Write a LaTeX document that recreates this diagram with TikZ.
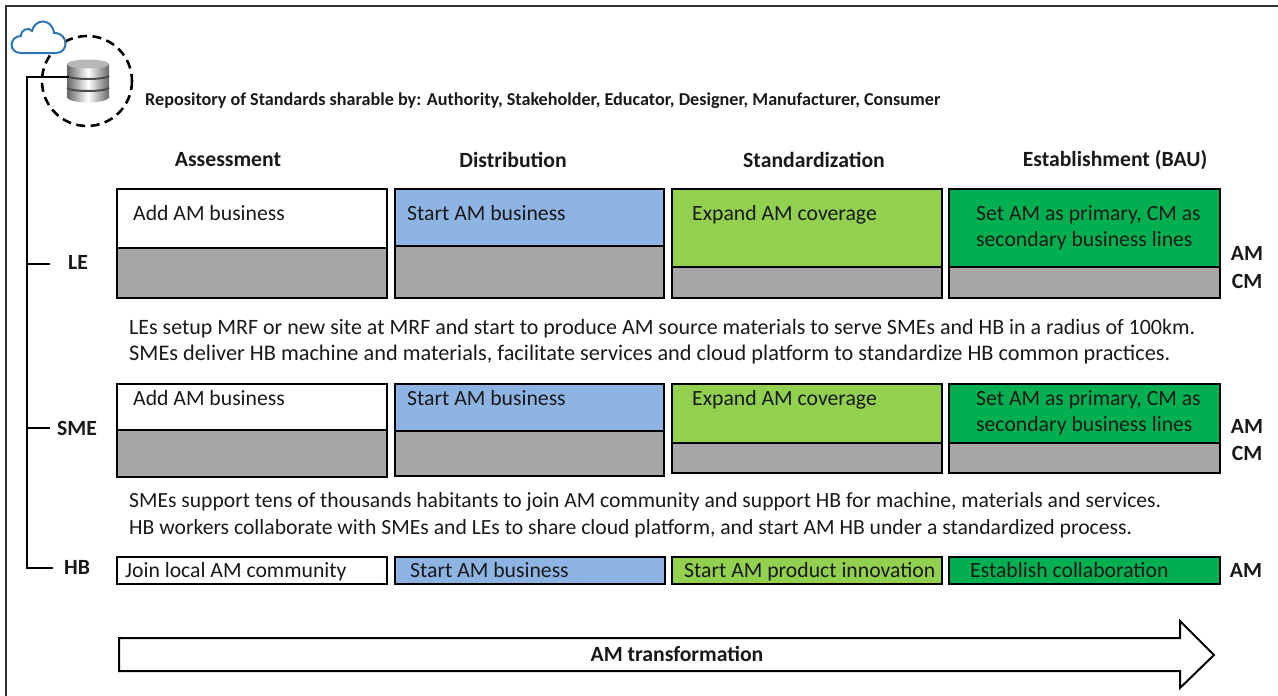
\documentclass[tikz,border=0pt]{standalone}
\usepackage{fontspec}
\setmainfont{Carlito}
\definecolor{cblue}{HTML}{8EB4E3}
\definecolor{clime}{HTML}{92D050}
\definecolor{cgreen}{HTML}{00B050}
\definecolor{cgrey}{HTML}{A6A6A6}
\definecolor{cloudblue}{HTML}{2E75B6}
\tikzset{
  x=1pt,y=-1pt,
  box/.style={draw=black,line width=2.4pt,inner sep=0pt,outer sep=0pt},
  body/.style={font=\fontsize{21.7}{24}\selectfont,text=black!90,inner sep=0pt,anchor=base west},
  bold/.style={font=\fontsize{21.7}{24}\selectfont\bfseries,text=black!90,inner sep=0pt},
  para/.style={font=\fontsize{#1}{26}\selectfont,text=black!90,inner sep=0pt,anchor=base west},
  wire/.style={draw=black,line width=1.5pt},
}
\newcommand{\cellbox}[7]{% name x1 y1 x2 ymid y2 colour
  \fill[cgrey] (#2,#5) rectangle (#4,#6);
  \fill[#7] (#2,#3) rectangle (#4,#5);
  \draw[box] (#2,#5) -- (#4,#5);
  \node[box,minimum width=#4pt-#2pt,minimum height=#6pt-#3pt,anchor=north west] (#1) at (#2,#3) {};
}
\begin{document}
\begin{tikzpicture}
\useasboundingbox (0,0) rectangle (1278,696);
\draw[black!80,line width=2pt] (6,697) -- (6,5.5) -- (1279,5.5);
% dashed circle
\draw[black,line width=2.6pt,dash pattern=on 9pt off 5.5pt] (87,81) circle (45);
% cloud
\draw[cloudblue,line width=2pt,fill=white] (21,53) .. controls (8,53) and (9,36) .. (21,36)
  .. controls (21,29) and (29,27) .. (32,31) .. controls (35,18) and (52,18) .. (54,33)
  .. controls (69,33) and (69,53) .. (56,53) -- cycle;
% database
\shade[left color=black!60,right color=black!60,middle color=white] (67,64) -- (67,98) .. controls (72,104) and (104,104) .. (109,98) -- (109,64) -- cycle;
\fill[black!28] (88,64) ellipse (21 and 4.5);
\draw[black!70,line width=2pt] (67,76) .. controls (72,80) and (104,80) .. (109,76);
\draw[black!70,line width=2pt] (67,88) .. controls (72,92) and (104,92) .. (109,88);
\coordinate (db) at (69,77);
\coordinate (bend) at (27,77);
\coordinate (trunkend) at (27,568);
\coordinate (hbtick) at (53,568);
\coordinate (letrunk) at (27,264);
\coordinate (letick) at (50,264);
\coordinate (smetrunk) at (27,428);
\coordinate (smetick) at (50,428);
\draw[wire] (db) -- (bend) -- (trunkend) -- (hbtick);
\draw[wire] (letrunk) -- (letick);
\draw[wire] (smetrunk) -- (smetick);
\node[inner sep=0pt,anchor=base west,font=\fontsize{18.15}{20}\selectfont\bfseries,text=black!90] (repo) at (145,105) {Repository of Standards sharable by: Authority, Stakeholder, Educator, Designer, Manufacturer, Consumer};
% headers
\node[bold] (h1) at (228,160) {Assessment};
\node[bold] (h2) at (513,160) {Distribution};
\node[bold] (h3) at (814,160) {Standardization};
\node[bold] (h4) at (1115,160) {Establishment (BAU)};
% row labels
\node[bold] (le) at (78,262) {LE};
\node[bold] (sme) at (77,428) {SME};
\node[bold] (hb) at (77,567) {HB};
% LE
\cellbox{a1}{117}{189}{387}{248}{298}{white}
\cellbox{a2}{395}{189}{664}{246}{298}{cblue}
\cellbox{a3}{672}{189}{942}{267}{298}{clime}
\cellbox{a4}{949}{189}{1220}{267}{298}{cgreen}
\node[body] at (133,220) {Add AM business};
\node[body] at (407,220) {Start AM business};
\node[body] at (692,220) {Expand AM coverage};
\node[body] at (976,220) {Set AM as primary, CM as};
\node[body] at (976,246) {secondary business lines};
\node[bold] at (1247,253) {AM};
\node[bold] at (1247,281) {CM};
\node[para=21.95] at (129,334) {LEs setup MRF or new site at MRF and start to produce AM source materials to serve SMEs and HB in a radius of 100km.};
\node[para=22.3] at (129,360) {SMEs deliver HB machine and materials, facilitate services and cloud platform to standardize HB common practices.};
% SME
\cellbox{b1}{117}{384}{387}{430}{477}{white}
\cellbox{b2}{395}{384}{664}{431}{476}{cblue}
\cellbox{b3}{672}{384}{942}{443}{473}{clime}
\cellbox{b4}{949}{384}{1220}{443}{473}{cgreen}
\node[body] at (133,405) {Add AM business};
\node[body] at (407,405) {Start AM business};
\node[body] at (692,405) {Expand AM coverage};
\node[body] at (976,405) {Set AM as primary, CM as};
\node[body] at (976,431) {secondary business lines};
\node[bold] at (1247,426) {AM};
\node[bold] at (1247,453) {CM};
\node[para=21.6] at (129,507) {SMEs support tens of thousands habitants to join AM community and support HB for machine, materials and services.};
\node[para=21.65] at (129,534) {HB workers collaborate with SMEs and LEs to share cloud platform, and start AM HB under a standardized process.};
% HB
\node[box,fill=white,minimum width=270pt,minimum height=27pt,anchor=north west] (c1) at (117,557) {};
\node[box,fill=cblue,minimum width=270pt,minimum height=27pt,anchor=north west] (c2) at (395,557) {};
\node[box,fill=clime,minimum width=270pt,minimum height=27pt,anchor=north west] (c3) at (672,557) {};
\node[box,fill=cgreen,minimum width=271pt,minimum height=27pt,anchor=north west] (c4) at (949,557) {};
\node[body] at (125,577) {Join local AM community};
\node[body] at (410,577) {Start AM business};
\node[body] at (684,577) {Start AM product innovation};
\node[body] at (970,577) {Establish collaboration};
\node[bold] at (1246,570) {AM};
% arrow
\draw[black,line width=2pt,fill=white] (119,638) -- (1180,638) -- (1180,621) -- (1214,655) -- (1180,688) -- (1180,671) -- (119,671) -- cycle;
\node[bold] (am) at (677,654) {AM transformation};
\end{tikzpicture}
\end{document}
